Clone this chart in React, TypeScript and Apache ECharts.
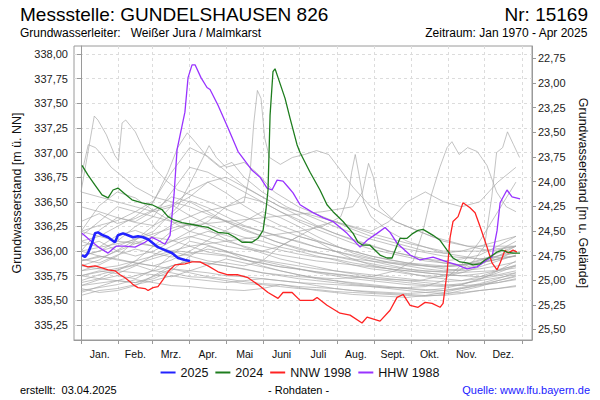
import React, { useEffect, useRef } from 'react';
import * as echarts from 'echarts';

// ---------- axes / labels ----------
const monthNames = ['Jan.', 'Feb.', 'Mrz.', 'Apr.', 'Mai', 'Juni', 'Juli', 'Aug.', 'Sept.', 'Okt.', 'Nov.', 'Dez.'];
const monthStarts = [0, 31, 59, 90, 120, 151, 181, 212, 243, 273, 304, 334, 365];
const levelTicks = [335.25, 335.5, 335.75, 336.0, 336.25, 336.5, 336.75, 337.0, 337.25, 337.5, 337.75, 338.0];
const depthTicks = [22.75, 23.0, 23.25, 23.5, 23.75, 24.0, 24.25, 24.5, 24.75, 25.0, 25.25, 25.5];
const GROUND = 360.705; // m ü. NN, Geländehöhe
const LEVEL_MIN = 335.098;
const LEVEL_MAX = 338.081;
const DAY_MIN = -5.8;
const DAY_MAX = 373.3;

// ---------- highlighted years: [day of year, level m ü. NN] ----------
const y2025: number[][] = [
  [0.8, 335.96], [3.3, 335.94], [5.8, 335.98], [9.1, 336.08], [11.6, 336.18], [14.1, 336.19], [18.2, 336.16],
  [22.4, 336.14], [25.7, 336.11], [28.1, 336.09], [30.6, 336.16], [34.8, 336.18], [38.9, 336.16], [43, 336.14],
  [47.2, 336.15], [51.3, 336.14], [55.5, 336.12], [59.6, 336.08], [63.7, 336.04], [69.5, 336.01], [75.3, 335.98],
  [80.3, 335.93], [86.1, 335.91], [90.2, 335.9],
];
const y2024: number[][] = [
  [0.8, 336.87], [5.8, 336.77], [11.6, 336.67], [17.4, 336.57], [22.4, 336.54], [26.5, 336.62], [30.6, 336.64],
  [36.4, 336.58], [42.2, 336.52], [50.5, 336.49], [58.8, 336.47], [67.1, 336.42], [72, 336.35], [76.2, 336.32],
  [83.6, 336.29], [91.9, 336.27], [100.2, 336.25], [105.1, 336.24], [113.4, 336.19], [121.7, 336.18], [127.5, 336.14],
  [133.3, 336.09], [141.6, 336.09], [146.5, 336.13], [150.7, 336.21], [153.1, 336.42], [154.8, 336.62], [156.5, 337.38],
  [158.9, 337.82], [160.6, 337.85], [163.1, 337.76], [168.9, 337.55], [173, 337.35], [178.8, 337.08], [181.3, 337.0],
  [189.6, 336.8], [197.8, 336.62], [203.6, 336.47], [208.6, 336.4], [216.9, 336.3], [225.2, 336.18], [229.3, 336.09],
  [233.4, 336.06], [239.2, 336.06], [247.5, 335.96], [253.3, 335.93], [257.5, 335.93], [261.6, 336.06], [264.1, 336.13],
  [269.9, 336.13], [274.8, 336.18], [279, 336.21], [283.1, 336.22], [287.3, 336.19], [291.4, 336.16], [297.2, 336.11],
  [303, 336.01], [307.9, 335.93], [313.7, 335.89], [319.5, 335.88], [324.5, 335.86], [330.3, 335.87], [334.4, 335.91],
  [338.6, 335.94], [344.4, 335.99], [348.5, 336.01], [352.6, 335.99], [357.6, 335.98], [363.4, 335.98],
];
const nnw1998: number[][] = [
  [0.8, 335.86], [5.8, 335.84], [11.6, 335.85], [17.4, 335.83], [22.4, 335.81], [28.1, 335.8], [32.3, 335.76],
  [36.4, 335.73], [40.6, 335.69], [43, 335.66], [47.2, 335.63], [53, 335.62], [55.5, 335.6], [59.6, 335.63],
  [63.7, 335.64], [67.9, 335.71], [72, 335.79], [77.8, 335.86], [86.1, 335.87], [91.9, 335.89], [98.5, 335.89],
  [105.1, 335.85], [113.4, 335.79], [121.7, 335.76], [130, 335.76], [138.2, 335.73], [146.5, 335.66], [154.8, 335.58],
  [163.1, 335.52], [167.2, 335.58], [174.7, 335.58], [181.3, 335.5], [192, 335.5], [195.4, 335.53], [203.6, 335.45],
  [214.4, 335.37], [222.7, 335.35], [232.6, 335.27], [236.8, 335.33], [247.5, 335.29], [255.8, 335.4], [261.6, 335.53],
  [266.6, 335.56], [272.4, 335.45], [279, 335.43], [284.8, 335.48], [290.6, 335.47], [297.2, 335.43], [299.7, 335.47],
  [303, 335.78], [305.5, 336.14], [307.9, 336.3], [312.1, 336.35], [316.2, 336.49], [322, 336.44], [326.2, 336.39],
  [330.3, 336.25], [336.1, 336.04], [340.2, 335.88], [344.4, 335.81], [346.9, 335.88], [351, 336.01], [353.5, 335.98],
  [357.6, 336.01], [360.9, 335.99],
];
const hhw1988: number[][] = [
  [0.8, 336.18], [7.5, 336.11], [15.7, 336.03], [22.4, 335.98], [29, 336.05], [36.4, 336.05], [44.7, 336.04],
  [53, 336.09], [58.8, 336.14], [63.7, 336.11], [69.5, 336.07], [73.7, 336.16], [77, 336.57], [79.5, 337.03],
  [86, 337.41], [88.6, 337.76], [91.9, 337.89], [94.4, 337.89], [99.3, 337.76], [104.3, 337.66], [106.8, 337.64],
  [113.4, 337.48], [121.7, 337.25], [130, 337.01], [141.6, 336.82], [148.2, 336.75], [154, 336.64], [158.1, 336.62],
  [162.3, 336.72], [167.2, 336.71], [171.4, 336.65], [175.5, 336.59], [181.3, 336.47], [192, 336.39], [200.3, 336.34],
  [208.6, 336.3], [220.2, 336.18], [231, 336.04], [236.8, 336.11], [245, 336.18], [251.7, 336.24], [255.8, 336.19],
  [261.6, 336.08], [272.4, 335.96], [280.6, 335.91], [291.4, 335.94], [303, 335.89], [311.3, 335.86], [319.5, 335.82],
  [327.8, 335.84], [336, 335.91], [340.2, 335.94], [344.4, 336.21], [346.9, 336.49], [352.6, 336.62], [356.8, 336.55],
  [363.4, 336.53],
];

// ---------- other years (grey), sampled every 15 days ----------
const greyDays = [0, 15, 30, 45, 60, 75, 90, 105, 120, 135, 150, 165, 180, 195, 210, 225, 240, 255, 270, 285, 300, 315, 330, 345, 360];
const greyYears: number[][] = [
  [336.30, 336.38, 336.28, 336.33, 336.42, 336.47, 336.36, 336.27, 336.20, 336.14, 336.10, 336.04, 336.00, 335.95, 335.91, 335.86, 335.82, 335.80, 335.77, 335.75, 335.74, 335.78, 335.84, 335.90, 335.96],
  [336.10, 336.04, 336.16, 336.21, 336.14, 336.11, 336.05, 335.99, 335.96, 335.91, 335.88, 335.84, 335.82, 335.79, 335.77, 335.75, 335.72, 335.70, 335.68, 335.66, 335.65, 335.67, 335.70, 335.73, 335.76],
  [335.70, 335.76, 335.81, 335.86, 335.80, 335.78, 335.74, 335.73, 335.70, 335.67, 335.66, 335.64, 335.62, 335.61, 335.59, 335.58, 335.57, 335.56, 335.55, 335.54, 335.56, 335.60, 335.64, 335.70, 335.74],
  [335.60, 335.63, 335.66, 335.71, 335.68, 335.65, 335.64, 335.62, 335.61, 335.60, 335.62, 335.66, 335.63, 335.60, 335.58, 335.56, 335.55, 335.54, 335.53, 335.55, 335.58, 335.62, 335.66, 335.68, 335.71],
  [336.00, 336.21, 336.34, 336.29, 336.26, 336.36, 336.51, 336.44, 336.35, 336.26, 336.20, 336.14, 336.10, 336.04, 336.00, 335.95, 335.90, 335.86, 335.82, 335.80, 335.79, 335.81, 335.86, 335.95, 336.05],
  [335.85, 335.91, 336.01, 336.11, 336.26, 336.46, 336.61, 336.70, 336.59, 336.46, 336.35, 336.26, 336.19, 336.11, 336.05, 336.00, 335.95, 335.91, 335.88, 335.85, 335.82, 335.80, 335.82, 335.85, 335.89],
  [336.20, 336.46, 336.60, 336.54, 336.41, 336.30, 336.26, 336.35, 336.31, 336.25, 336.20, 336.15, 336.09, 336.04, 336.00, 335.96, 335.92, 335.89, 335.87, 335.85, 335.84, 335.86, 335.91, 335.95, 336.01],
  [335.75, 335.80, 335.77, 335.85, 335.96, 336.05, 336.14, 336.20, 336.16, 336.10, 336.05, 336.01, 335.97, 335.94, 335.92, 335.88, 335.85, 335.82, 335.80, 335.78, 335.76, 335.75, 335.77, 335.80, 335.83],
  [335.65, 335.71, 335.75, 335.72, 335.81, 335.96, 336.10, 336.06, 336.00, 335.95, 335.90, 335.86, 335.82, 335.78, 335.75, 335.72, 335.70, 335.68, 335.66, 335.65, 335.64, 335.66, 335.71, 335.80, 335.90],
  [335.90, 335.95, 335.92, 335.88, 335.85, 335.91, 336.00, 336.11, 336.21, 336.30, 336.40, 336.34, 336.25, 336.15, 336.06, 335.98, 335.93, 335.88, 335.85, 335.82, 335.80, 335.82, 335.88, 336.00, 336.10],
  [336.20, 336.26, 336.31, 336.40, 336.51, 336.80, 337.05, 336.96, 336.81, 336.66, 336.55, 336.45, 336.36, 336.26, 336.18, 336.11, 336.05, 336.00, 335.96, 335.92, 335.90, 335.92, 335.96, 336.05, 336.15],
  [335.55, 335.60, 335.62, 335.66, 335.70, 335.75, 335.72, 335.70, 335.68, 335.70, 335.72, 335.70, 335.68, 335.65, 335.62, 335.60, 335.58, 335.57, 335.56, 335.55, 335.55, 335.57, 335.60, 335.62, 335.65],
  [336.45, 336.40, 336.34, 336.30, 336.41, 336.55, 336.50, 336.40, 336.30, 336.21, 336.15, 336.08, 336.02, 335.98, 335.95, 335.92, 335.90, 335.88, 335.86, 335.85, 335.84, 335.85, 335.88, 335.92, 335.95],
  [335.80, 335.86, 335.95, 336.10, 336.05, 336.00, 335.95, 335.90, 335.88, 335.85, 335.90, 336.05, 336.15, 336.10, 336.00, 335.92, 335.86, 335.82, 335.78, 335.74, 335.72, 335.70, 335.72, 335.75, 335.78],
  [336.00, 335.95, 335.91, 335.88, 335.85, 335.82, 335.80, 335.78, 335.75, 335.74, 335.72, 335.70, 335.68, 335.67, 335.66, 335.65, 335.64, 335.63, 335.63, 335.64, 335.70, 335.86, 336.10, 336.40, 336.70],
  [336.60, 336.55, 336.50, 336.45, 336.40, 336.45, 336.55, 336.70, 336.75, 336.65, 336.55, 336.45, 336.40, 336.35, 336.30, 336.22, 336.15, 336.10, 336.05, 336.00, 335.98, 336.00, 336.05, 336.10, 336.15],
  [335.62, 335.58, 335.60, 335.65, 335.75, 335.85, 335.90, 335.88, 335.85, 335.82, 335.78, 335.75, 335.72, 335.70, 335.68, 335.66, 335.64, 335.62, 335.60, 335.58, 335.57, 335.58, 335.60, 335.62, 335.64],
  [335.95, 336.00, 336.10, 336.25, 336.35, 336.30, 336.20, 336.15, 336.10, 336.05, 336.00, 335.96, 335.93, 335.90, 335.88, 335.86, 335.84, 335.82, 335.80, 335.78, 335.76, 335.75, 335.74, 335.76, 335.80],
  [336.05, 336.10, 336.00, 335.95, 336.00, 336.10, 336.20, 336.30, 336.45, 336.55, 336.50, 336.40, 336.30, 336.22, 336.15, 336.08, 336.02, 335.98, 335.94, 335.90, 335.88, 335.86, 335.90, 335.98, 336.05],
  [336.20, 336.15, 336.10, 336.08, 336.05, 336.10, 336.15, 336.10, 336.05, 336.02, 336.00, 336.05, 336.15, 336.25, 336.30, 336.25, 336.20, 336.30, 336.50, 336.60, 336.50, 336.45, 336.50, 336.70, 336.85],
  [335.75, 335.72, 335.70, 335.68, 335.72, 335.80, 335.95, 336.05, 336.00, 335.92, 335.85, 335.80, 335.76, 335.72, 335.70, 335.68, 335.66, 335.64, 335.62, 335.60, 335.62, 335.66, 335.72, 335.78, 335.85],
  [335.85, 335.82, 335.80, 335.90, 336.05, 336.20, 336.28, 336.22, 336.12, 336.04, 335.98, 335.92, 335.88, 335.84, 335.80, 335.77, 335.74, 335.72, 335.70, 335.68, 335.66, 335.65, 335.66, 335.70, 335.75],
  [335.68, 335.72, 335.80, 335.78, 335.76, 335.74, 335.80, 335.86, 335.92, 335.88, 335.84, 335.80, 335.76, 335.73, 335.70, 335.67, 335.65, 335.63, 335.62, 335.61, 335.60, 335.62, 335.65, 335.68, 335.72],
  [336.15, 336.30, 336.45, 336.40, 336.35, 336.60, 336.85, 336.80, 336.70, 336.60, 336.50, 336.40, 336.32, 336.25, 336.18, 336.12, 336.06, 336.00, 335.96, 335.92, 335.88, 335.86, 335.88, 335.92, 336.00],
  [335.58, 335.64, 335.70, 335.68, 335.74, 335.82, 335.78, 335.74, 335.72, 335.69, 335.67, 335.66, 335.64, 335.63, 335.62, 335.60, 335.59, 335.58, 335.57, 335.58, 335.60, 335.63, 335.67, 335.72, 335.78],
  [335.92, 335.88, 335.96, 336.02, 335.98, 335.94, 335.97, 336.02, 335.99, 335.95, 335.91, 335.88, 335.85, 335.82, 335.80, 335.78, 335.76, 335.74, 335.72, 335.70, 335.69, 335.70, 335.74, 335.80, 335.86],
];
// grey years with short events: [day, level]
const greyEventYears: number[][][] = [
  [[0, 336.6], [5, 336.95], [11, 337.37], [14, 337.33], [21, 337.18], [28, 336.97], [31, 336.92], [34, 337.3], [37, 337.33], [45, 337.21], [53, 337.0], [61, 336.84], [70, 336.72], [80, 336.62], [95, 336.55], [110, 336.48], [125, 336.4], [150, 336.28], [180, 336.15], [210, 336.05], [240, 335.95], [270, 335.88], [300, 335.85], [330, 335.88], [360, 335.95]],
  [[0, 336.75], [6, 337.08], [12, 337.05], [17, 336.98], [25, 336.85], [35, 336.75], [45, 336.65], [60, 336.55], [75, 336.5], [90, 336.45], [110, 336.35], [130, 336.25], [160, 336.1], [190, 336.0], [220, 335.92], [250, 335.85], [280, 335.8], [310, 335.78], [340, 335.8], [360, 335.85]],
  [[0, 335.9], [20, 335.95], [40, 336.05], [60, 336.15], [80, 336.3], [100, 336.4], [120, 336.45], [135, 336.5], [140, 336.8], [143, 337.3], [146, 337.63], [149, 337.55], [152, 337.15], [156, 336.95], [165, 336.88], [175, 336.95], [185, 336.98], [195, 337.02], [205, 336.98], [215, 336.82], [225, 336.65], [240, 336.45], [260, 336.3], [280, 336.2], [300, 336.1], [320, 336.05], [340, 336.0], [360, 336.05]],
  [[0, 335.8], [30, 335.85], [60, 335.95], [90, 336.05], [120, 336.1], [150, 336.15], [180, 336.2], [200, 336.25], [215, 336.35], [221, 336.55], [224, 336.8], [227, 336.98], [230, 336.78], [234, 336.5], [240, 336.35], [255, 336.2], [270, 336.1], [300, 335.98], [330, 335.92], [360, 335.95]],
  [[0, 336.0], [40, 336.1], [80, 336.25], [120, 336.3], [160, 336.35], [200, 336.4], [225, 336.45], [233, 336.6], [238, 336.89], [242, 336.75], [247, 336.45], [260, 336.3], [290, 336.15], [320, 336.05], [360, 336.05]],
  [[0, 335.65], [30, 335.7], [60, 335.8], [90, 335.9], [120, 335.85], [150, 335.78], [180, 335.74], [210, 335.72], [240, 335.74], [260, 335.8], [275, 335.9], [283, 336.2], [290, 336.57], [297, 336.85], [303, 337.05], [307, 337.11], [313, 336.98], [320, 337.05], [328, 337.01], [336, 336.87], [344, 336.6], [352, 336.45], [360, 336.4]],
  [[0, 335.75], [40, 335.85], [80, 336.0], [120, 335.95], [160, 335.85], [200, 335.78], [240, 335.72], [280, 335.7], [310, 335.78], [325, 335.9], [334, 336.05], [340, 336.55], [344, 337.0], [349, 337.05], [353, 337.21], [358, 337.08], [363, 336.95]],
  [[0, 336.1], [15, 336.15], [30, 336.25], [45, 336.35], [60, 336.5], [72, 336.8], [80, 337.05], [88, 337.2], [95, 337.1], [105, 336.95], [115, 336.85], [125, 336.9], [135, 336.75], [150, 336.6], [170, 336.45], [190, 336.35], [210, 336.25], [240, 336.12], [270, 336.02], [300, 335.95], [330, 335.92], [360, 335.98]],
  [[0, 335.95], [30, 336.05], [60, 336.2], [80, 336.45], [95, 336.8], [106, 337.07], [112, 336.95], [120, 336.85], [135, 336.9], [145, 336.8], [160, 336.6], [180, 336.45], [210, 336.3], [240, 336.18], [270, 336.08], [300, 336.0], [330, 336.0], [360, 336.05]],
];

const FONT = '"Liberation Sans", Arial, Helvetica, sans-serif';
const fmt = (v: number) => v.toFixed(2).replace('.', ',');
const monthMids = monthNames.map((_, i) => (monthStarts[i] + monthStarts[i + 1]) / 2);

export default function App() {
  const ref = useRef<HTMLDivElement>(null);
  useEffect(() => {
    const chart = echarts.init(ref.current!, null, { renderer: 'svg' });
    const grey = 'rgba(165,165,165,0.75)';
    const greySeries: any[] = [
      ...greyYears.map((vals) => greyDays.map((d, i) => [d, vals[i]])),
      ...greyEventYears,
    ].map((data) => ({
      type: 'line',
      data,
      symbol: 'none',
      silent: true,
      z: 1,
      lineStyle: { color: grey, width: 0.9 },
    }));
    const main = (name: string, data: number[][], color: string, width: number, z: number) => ({
      name,
      type: 'line',
      data,
      symbol: 'none',
      z,
      itemStyle: { color },
      lineStyle: { color, width },
    });
    const option: any = {
      animation: false,
      textStyle: { fontFamily: FONT },
      grid: { left: 74, right: 68, top: 46, bottom: 60, show: true, borderColor: '#9a9a9a', borderWidth: 1, containLabel: false },
      legend: {
        data: ['2025', '2024', 'NNW 1998', 'HHW 1988'],
        top: 361,
        left: 'center',
        icon: 'rect',
        itemWidth: 15,
        itemHeight: 2,
        itemGap: 7,
        textStyle: { fontSize: 12.5, color: '#111', fontFamily: FONT },
      },
      xAxis: {
        type: 'value',
        min: DAY_MIN,
        max: DAY_MAX,
        axisLine: { show: true, lineStyle: { color: '#9a9a9a' } },
        axisTick: { show: true, customValues: monthStarts, length: 4, lineStyle: { color: '#9a9a9a' } },
        axisLabel: {
          customValues: monthMids,
          formatter: (v: number) => {
            const i = monthMids.findIndex((m) => Math.abs(m - v) < 0.01);
            return i >= 0 ? monthNames[i] : '';
          },
          fontSize: 10.5,
          color: '#111',
          margin: 8,
        },
        splitLine: { show: true, lineStyle: { color: '#dcdcdc', type: [3, 3] } },
      },
      yAxis: [
        {
          type: 'value',
          min: LEVEL_MIN,
          max: LEVEL_MAX,
          minInterval: 0.25,
          maxInterval: 0.25,
          name: 'Grundwasserstand [m ü. NN]',
          nameLocation: 'middle',
          nameRotate: 90,
          nameGap: 46,
          nameTextStyle: { fontSize: 12.5, color: '#111' },
          axisLine: { show: true, lineStyle: { color: '#9a9a9a' } },
          axisTick: { show: true, customValues: levelTicks, length: 4, lineStyle: { color: '#9a9a9a' } },
          axisLabel: { customValues: levelTicks, formatter: fmt, fontSize: 11, color: '#222', margin: 6 },
          splitLine: { show: true, lineStyle: { color: '#dcdcdc', type: [3, 3] } },
        },
        {
          type: 'value',
          inverse: true,
          min: GROUND - LEVEL_MAX,
          max: GROUND - LEVEL_MIN,
          minInterval: 0.25,
          maxInterval: 0.25,
          position: 'right',
          name: 'Grundwasserstand [m u. Gelände]',
          nameLocation: 'middle',
          nameRotate: -90,
          nameGap: 40,
          nameTextStyle: { fontSize: 12.5, color: '#111' },
          axisLine: { show: true, lineStyle: { color: '#9a9a9a' } },
          axisTick: { show: true, customValues: depthTicks, length: 4, lineStyle: { color: '#9a9a9a' } },
          axisLabel: { customValues: depthTicks, formatter: fmt, fontSize: 11, color: '#222', margin: 6 },
          splitLine: { show: false },
        },
      ],
      series: [
        ...greySeries,
        main('HHW 1988', hhw1988, '#9933ff', 1.3, 3),
        main('NNW 1998', nnw1998, '#ff2222', 1.3, 3),
        main('2024', y2024, '#1e7d1e', 1.3, 4),
        main('2025', y2025, '#2222ff', 2.6, 5),
      ],
      graphic: [
        { type: 'text', left: 20, top: 5, style: { text: 'Messstelle: GUNDELSHAUSEN 826', fontSize: 19, fontFamily: FONT, fill: '#000' } },
        { type: 'text', right: 12, top: 5, style: { text: 'Nr: 15169', fontSize: 19, fontFamily: FONT, fill: '#000' } },
        { type: 'text', left: 20, top: 27, style: { text: 'Grundwasserleiter:   Weißer Jura / Malmkarst', fontSize: 12, fontFamily: FONT, fill: '#000' } },
        { type: 'text', right: 12, top: 27, style: { text: 'Zeitraum: Jan 1970 - Apr 2025', fontSize: 12, fontFamily: FONT, fill: '#000' } },
        { type: 'text', left: 20, top: 384, style: { text: 'erstellt:  03.04.2025', fontSize: 11, fontFamily: FONT, fill: '#000' } },
        { type: 'text', left: 268, top: 384, style: { text: '- Rohdaten -', fontSize: 11, fontFamily: FONT, fill: '#000' } },
        { type: 'text', right: 10, top: 384, style: { text: 'Quelle: www.lfu.bayern.de', fontSize: 11, fontFamily: FONT, fill: '#1a1aff' } },
      ],
    };
    chart.setOption(option);
    return () => chart.dispose();
  }, []);
  return (
    <div
      ref={ref}
      style={{ position: 'absolute', left: 0, top: 0, width: 600, height: 400, background: '#fff' }}
    />
  );
}
